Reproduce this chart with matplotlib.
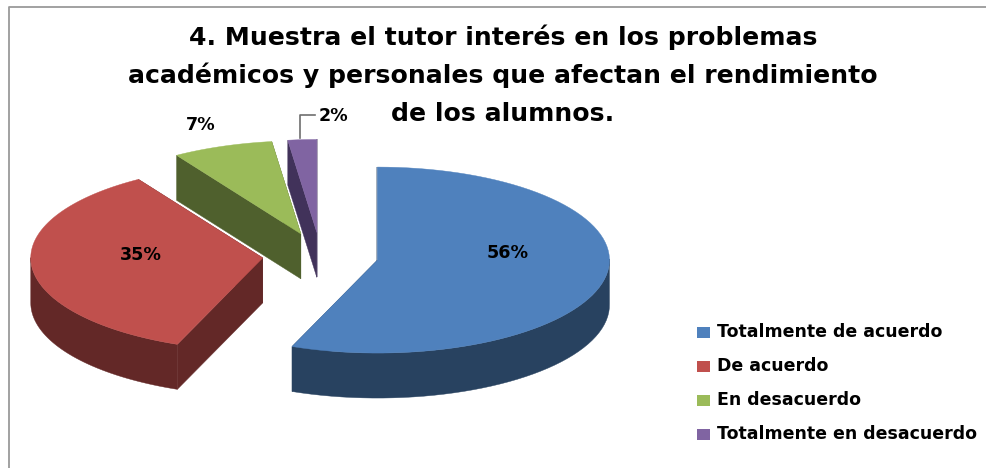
import numpy as np
import matplotlib
matplotlib.use("Agg")
import matplotlib.pyplot as plt
from matplotlib.patches import Polygon, Rectangle

title_lines = [
    "4. Muestra el tutor interés en los problemas",
    "académicos y personales que afectan el rendimiento",
    "de los alumnos.",
]
categories = ["Totalmente de acuerdo", "De acuerdo", "En desacuerdo", "Totalmente en desacuerdo"]
values = [56, 35, 7, 2]
top_colors = ["#4F81BD", "#C0504D", "#9BBB59", "#8064A2"]
side_colors = ["#284260", "#632827", "#4F602D", "#41325A"]

# pie geometry in pixels, y pointing down like the picture
cx, cy = 320.5, 255.7
rx, ry = 232, 93
depth = 45
explode = 0.25

fig = plt.figure(figsize=(9.87, 4.68), dpi=100)
ax = fig.add_axes([0, 0, 1, 1])
ax.set_xlim(0, 987)
ax.set_ylim(468, 0)
ax.axis("off")

# chart frame, only top and left are inside the crop
ax.plot([8.5, 8.5, 987], [468, 6.5, 6.5], color="#9A9A9A", linewidth=1.3)

for i, line in enumerate(title_lines):
    ax.text(503, 37 + i * 38.5, line, ha="center", va="center", fontsize=18.1,
            fontweight="bold", family="DejaVu Sans", color="black")


def rim(ox, oy, a0, a1, n=80):
    a = np.radians(np.linspace(a0, a1, n))
    return np.column_stack([ox + rx * np.cos(a), oy - ry * np.sin(a)])


# angles run clockwise from 12 o'clock
edges = 90 - np.cumsum([0] + values) * 3.6
wedges = []
for i in range(len(values)):
    mid = np.radians((edges[i] + edges[i + 1]) / 2)
    ox = cx + explode * rx * np.cos(mid)
    oy = cy - explode * ry * np.sin(mid)
    wedges.append((i, ox, oy, edges[i], edges[i + 1]))

# back pieces first
for i, ox, oy, a0, a1 in [wedges[2], wedges[3], wedges[1], wedges[0]]:
    pts = rim(ox, oy, a0, a1)
    down = np.array([0, depth])
    apex = np.array([ox, oy])
    # the two cut walls
    for p in (pts[0], pts[-1]):
        wall = [apex, p, p + down, apex + down]
        ax.add_patch(Polygon(wall, closed=True, facecolor=side_colors[i],
                             edgecolor=side_colors[i], linewidth=0.3))
    # outer wall, only the part facing the viewer
    front = pts[np.sin(np.radians(np.linspace(a0, a1, len(pts)))) < 0.02]
    if len(front) > 1:
        band = np.vstack([front, front[::-1] + down])
        ax.add_patch(Polygon(band, closed=True, facecolor=side_colors[i],
                             edgecolor=side_colors[i], linewidth=0.3))
    ax.add_patch(Polygon(np.vstack([apex, pts]), closed=True, facecolor=top_colors[i],
                         edgecolor=top_colors[i], linewidth=0.3))

label_font = dict(fontsize=12.6, fontweight="bold", family="DejaVu Sans", color="black",
                  ha="center", va="center")
label_pos = [(508, 253), (141, 255), (201, 125), (333, 116)]
for v, (x, y) in zip(values, label_pos):
    ax.text(x, y, f"{v}%", **label_font)

# leader line of the smallest slice
ax.plot([300, 300, 315], [138, 115, 115], color="#6E6E6E", linewidth=1.2)

legend_y = [332, 366, 400, 434]
for name, color, y in zip(categories, top_colors, legend_y):
    ax.add_patch(Rectangle((697, y - 5.5), 13, 11, facecolor=color, edgecolor="none"))
    ax.text(717, y, name, ha="left", va="center", fontsize=12.5, fontweight="bold",
            family="DejaVu Sans", color="black")

fig.savefig("out.png", dpi=100)
